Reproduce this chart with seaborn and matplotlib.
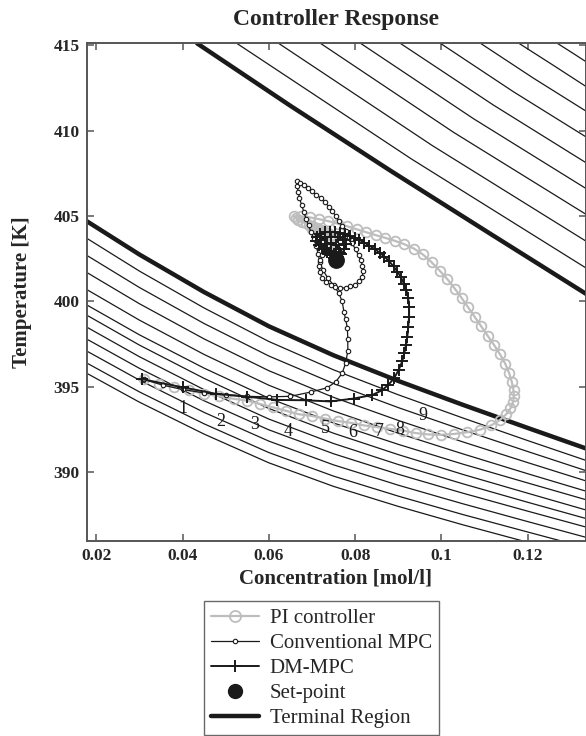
import matplotlib
matplotlib.use("Agg")
import matplotlib.pyplot as plt
from matplotlib.lines import Line2D
import seaborn as sns
import numpy as np

#-------------------
# data (concentration mol/l, temperature K)
#-------------------

# PI controller trajectory
pi_c = [0.0310, 0.0345, 0.0380, 0.0415, 0.0450, 0.0485, 0.0520, 0.0550, 0.0580, 0.0610,
        0.0640, 0.0670, 0.0700, 0.0730, 0.0760, 0.0790, 0.0820, 0.0850, 0.0880, 0.0910,
        0.0940, 0.0970, 0.1000, 0.1030, 0.1060, 0.1090, 0.1115, 0.1135, 0.1150, 0.1160,
        0.1166, 0.1168, 0.1167, 0.1163, 0.1157, 0.1148, 0.1136, 0.1122, 0.1107, 0.1092,
        0.1077, 0.1062, 0.1047, 0.1031, 0.1014, 0.0996, 0.0977, 0.0957, 0.0936, 0.0914,
        0.0892, 0.0870, 0.0848, 0.0826, 0.0804, 0.0782, 0.0760, 0.0738, 0.0716, 0.0695,
        0.0675, 0.0658, 0.0662, 0.0668, 0.0676, 0.0685, 0.0694, 0.0703, 0.0712, 0.0721,
        0.0730, 0.0738, 0.0745, 0.0735, 0.0722, 0.0710, 0.0700, 0.0708, 0.0720, 0.0732,
        0.0743, 0.0750, 0.0754, 0.0755]
pi_t = [395.45, 395.2, 395.0, 394.8, 394.6, 394.45, 394.3, 394.2, 394.0, 393.8,
        393.6, 393.4, 393.3, 393.15, 393.0, 392.9, 392.75, 392.65, 392.55, 392.45,
        392.3, 392.22, 392.2, 392.25, 392.35, 392.5, 392.75, 393.05, 393.4, 393.75,
        394.1, 394.45, 394.8, 395.3, 395.8, 396.35, 396.9, 397.45, 398.0, 398.55,
        399.1, 399.65, 400.2, 400.75, 401.3, 401.8, 402.3, 402.75, 403.1, 403.35,
        403.55, 403.72, 403.88, 404.05, 404.22, 404.4, 404.55, 404.7, 404.82, 404.92,
        404.98, 404.98, 404.88, 404.78, 404.68, 404.58, 404.48, 404.38, 404.28, 404.18,
        404.08, 403.98, 403.88, 403.9, 404.02, 404.14, 404.25, 404.2, 404.05, 403.85,
        403.6, 403.3, 402.95, 402.6]

# conventional MPC trajectory
conv_c = [0.0310, 0.0355, 0.0400, 0.0450, 0.0500, 0.0550, 0.0600, 0.0650, 0.0697, 0.0735,
          0.0755, 0.0770, 0.0778, 0.0783, 0.0783, 0.0782, 0.0778, 0.0774, 0.0770, 0.0762,
          0.0750, 0.0736, 0.0725, 0.0718, 0.0714, 0.0710, 0.0704, 0.0698, 0.0692, 0.0686,
          0.0681, 0.0676, 0.0671, 0.0668, 0.0666, 0.0666, 0.0672, 0.0681, 0.0690, 0.0700,
          0.0710, 0.0720, 0.0730, 0.0739, 0.0747, 0.0755, 0.0763, 0.0770, 0.0778, 0.0785,
          0.0793, 0.0801, 0.0808, 0.0813, 0.0817, 0.0819, 0.0816, 0.0809, 0.0800, 0.0789,
          0.0778, 0.0766, 0.0754, 0.0743, 0.0733, 0.0724, 0.0718, 0.0716, 0.0718, 0.0724,
          0.0733, 0.0744, 0.0752]
conv_t = [395.45, 395.1, 394.85, 394.65, 394.52, 394.45, 394.42, 394.45, 394.7, 394.95,
          395.3, 395.8, 396.4, 397.1, 397.8, 398.45, 398.95, 399.4, 400.0, 400.5,
          400.95, 401.4, 401.85, 402.3, 402.8, 403.25, 403.65, 404.05, 404.45, 404.85,
          405.25, 405.65, 406.05, 406.4, 406.75, 407.03, 406.93, 406.8, 406.62, 406.45,
          406.25, 406.05, 405.8, 405.55, 405.3, 405.0, 404.7, 404.4, 404.1, 403.75,
          403.4, 403.05, 402.7, 402.4, 402.1, 401.76, 401.45, 401.17, 400.98, 400.88,
          400.8, 400.78, 400.82, 400.98, 401.15, 401.37, 401.7, 402.05, 402.4, 402.7,
          402.85, 402.8, 402.6]

# DM-MPC trajectory
dm_c = [0.0307, 0.0400, 0.0477, 0.0550, 0.0620, 0.0685, 0.0743, 0.0797, 0.0840, 0.0862,
        0.0877, 0.0890, 0.0901, 0.0909, 0.0914, 0.0918, 0.0921, 0.0923, 0.0925, 0.0925,
        0.0923, 0.0919, 0.0913, 0.0906, 0.0898, 0.0889, 0.0879, 0.0868, 0.0857, 0.0845,
        0.0833, 0.0821, 0.0810, 0.0799, 0.0788, 0.0777, 0.0766, 0.0754, 0.0742, 0.0730,
        0.0719, 0.0711, 0.0710, 0.0716, 0.0725, 0.0735, 0.0744, 0.0750, 0.0754, 0.0760,
        0.0764, 0.0762, 0.0755, 0.0745, 0.0735, 0.0730, 0.0735, 0.0745, 0.0752, 0.0758,
        0.0768, 0.0775, 0.0778, 0.0772, 0.0760, 0.0745, 0.0730, 0.0720, 0.0722, 0.0732,
        0.0745, 0.0755, 0.0760]
dm_t = [395.45, 394.98, 394.6, 394.43, 394.24, 394.22, 394.15, 394.32, 394.53, 394.8,
        395.12, 395.5, 396.0, 396.49, 396.98, 397.46, 397.95, 398.5, 399.1, 399.7,
        400.2, 400.65, 401.05, 401.42, 401.75, 402.05, 402.35, 402.62, 402.85, 403.07,
        403.27, 403.45, 403.6, 403.73, 403.84, 403.93, 404.0, 404.05, 404.07, 404.05,
        403.97, 403.8, 403.55, 403.3, 403.07, 402.87, 402.7, 402.55, 402.45, 402.6,
        402.85, 403.1, 403.3, 403.4, 403.35, 403.15, 402.95, 402.8, 402.7, 402.5,
        402.75, 403.05, 403.35, 403.6, 403.75, 403.8, 403.75, 403.6, 403.35, 403.1,
        402.9, 402.7, 402.55]

setpoint_c = [0.0755]
setpoint_t = [402.45]

# terminal region boundaries (thick lines)
term_low_c = [0.0178, 0.0300, 0.0450, 0.0600, 0.0750, 0.0900, 0.1050, 0.1200, 0.1335]
term_low_t = [404.7, 402.75, 400.55, 398.55, 396.85, 395.35, 393.95, 392.6, 391.4]
term_up_c = [0.0434, 0.0650, 0.0882, 0.1114, 0.1338]
term_up_t = [415.1, 411.45, 407.65, 403.95, 400.4]

# level lines below the lower boundary, sampled on term_low_c
lower_t = [
    [403.7, 401.78, 399.62, 397.66, 396.0, 394.54, 393.18, 391.86, 390.7],
    [402.7, 400.82, 398.71, 396.81, 395.2, 393.79, 392.48, 391.22, 390.1],
    [401.7, 399.87, 397.81, 395.95, 394.39, 393.04, 391.78, 390.57, 389.5],
    [400.7, 398.91, 396.9, 395.1, 393.59, 392.29, 391.08, 389.92, 388.9],
    [399.8, 398.05, 396.1, 394.34, 392.89, 391.64, 390.48, 389.38, 388.4],
    [399.2, 397.45, 395.5, 393.74, 392.29, 391.04, 389.88, 388.78, 387.8],
    [398.5, 396.77, 394.84, 393.12, 391.69, 390.46, 389.33, 388.25, 387.3],
    [397.8, 396.09, 394.19, 392.49, 391.09, 389.89, 388.78, 387.73, 386.8],
    [397.1, 395.4, 393.51, 391.83, 390.44, 389.25, 388.16, 387.12, 386.2],
    [396.4, 394.71, 392.84, 391.16, 389.78, 388.61, 387.53, 386.51, 385.6],
    [395.8, 394.11, 392.24, 390.56, 389.18, 388.01, 386.93, 385.91, 385.0],
]

# level lines above the upper boundary (top edge, middle, right edge)
upper_c = [
    [0.0526, 0.0931, 0.1335], [0.0623, 0.0979, 0.1335], [0.0720, 0.1028, 0.1335],
    [0.0813, 0.1074, 0.1335], [0.0905, 0.1120, 0.1335], [0.0998, 0.1167, 0.1335],
    [0.1091, 0.1213, 0.1335], [0.1180, 0.1258, 0.1335], [0.1269, 0.1302, 0.1335],
]
upper_t = [
    [415.1, 408.33, 401.96], [415.1, 409.12, 403.53], [415.1, 409.9, 405.10],
    [415.1, 410.7, 406.61], [415.1, 411.5, 408.12], [415.1, 412.27, 409.63],
    [415.1, 413.07, 411.14], [415.1, 413.84, 412.58], [415.1, 414.57, 414.03],
]

# step labels along the lower level lines
step_labels = ["1", "2", "3", "4", "5", "6", "7", "8", "9"]
step_c = [0.0402, 0.0489, 0.0567, 0.0645, 0.0730, 0.0795, 0.0857, 0.0903, 0.0957]
step_t = [393.75, 392.97, 392.8, 392.38, 392.58, 392.33, 392.38, 392.52, 393.3]

x_ticks = [0.02, 0.04, 0.06, 0.08, 0.10, 0.12]
x_tick_labels = ["0.02", "0.04", "0.06", "0.08", "0.1", "0.12"]
y_ticks = [390, 395, 400, 405, 410, 415]

#-------------------
# plot
#-------------------

sns.set_theme(style="ticks")
plt.rcParams['font.family'] = ['Liberation Serif', 'DejaVu Serif']

GREY = '#bdbdbd'
INK = '#1a1a1a'

fig = plt.figure(figsize=(5.86, 7.36), dpi=100)
ax = fig.add_axes([0.148, 0.2653, 0.852, 0.6757])

for line_t in lower_t:
    sns.lineplot(x=term_low_c, y=line_t, ax=ax, color=INK, lw=0.9, sort=False,
                 estimator=None, legend=False, zorder=1)
for line_c, line_t in zip(upper_c, upper_t):
    sns.lineplot(x=line_c, y=line_t, ax=ax, color=INK, lw=0.9, sort=False,
                 estimator=None, legend=False, zorder=1)

sns.lineplot(x=term_low_c, y=term_low_t, ax=ax, color=INK, lw=3.2, sort=False,
             estimator=None, legend=False, zorder=2)
sns.lineplot(x=term_up_c, y=term_up_t, ax=ax, color=INK, lw=3.2, sort=False,
             estimator=None, legend=False, zorder=2)

sns.lineplot(x=pi_c, y=pi_t, ax=ax, color=GREY, lw=1.6, marker='o', ms=7,
             mfc='none', mec=GREY, mew=1.3, sort=False, estimator=None,
             legend=False, zorder=3)
sns.lineplot(x=conv_c, y=conv_t, ax=ax, color=INK, lw=0.9, marker='o', ms=3.2,
             mfc='white', mec=INK, mew=0.8, sort=False, estimator=None,
             legend=False, zorder=4)
sns.lineplot(x=dm_c, y=dm_t, ax=ax, color=INK, lw=1.4, marker='+', ms=8,
             mec=INK, mew=1.4, sort=False, estimator=None, legend=False, zorder=5)
sns.scatterplot(x=setpoint_c, y=setpoint_t, ax=ax, color=INK, s=125,
                edgecolor=INK, legend=False, zorder=6)

for lab, c, t in zip(step_labels, step_c, step_t):
    ax.text(c, t, lab, fontsize=13, color=INK, ha='center', va='center', zorder=7)

ax.set_xlim(0.0178, 0.1335)
ax.set_ylim(386.0, 415.1)
ax.set_xticks(x_ticks)
ax.set_xticklabels(x_tick_labels)
ax.set_yticks(y_ticks)
ax.tick_params(direction='in', length=5, width=1.1, color='#555555',
               top=True, right=True, labelsize=12.5, pad=5)
for lab in ax.get_xticklabels() + ax.get_yticklabels():
    lab.set_fontweight('bold')
for sp in ax.spines.values():
    sp.set_color('#555555')
    sp.set_linewidth(1.4)

fig.text(0.573, 0.974, "Controller Response", fontsize=17, fontweight='bold',
         ha='center', va='center')
fig.text(0.573, 1 - 578 / 736, "Concentration [mol/l]", fontsize=15, fontweight='bold',
         ha='center', va='center')
fig.text(22 / 586, 1 - 292 / 736, "Temperature [K]", fontsize=15, fontweight='bold',
         ha='center', va='center', rotation=90)

handles = [
    Line2D([], [], color=GREY, lw=1.6, marker='o', ms=8, mfc='none', mec=GREY, mew=1.3),
    Line2D([], [], color=INK, lw=0.9, marker='o', ms=3.2, mfc='white', mec=INK, mew=0.8),
    Line2D([], [], color=INK, lw=1.4, marker='+', ms=9, mew=1.4),
    Line2D([], [], color=INK, ls='none', marker='o', ms=10),
    Line2D([], [], color=INK, lw=3.2),
]
labels = ["PI controller", "Conventional MPC", "DM-MPC", "Set-point", "Terminal Region"]
leg = fig.legend(handles, labels, loc='upper left', bbox_to_anchor=(204 / 586, 1 - 601 / 736),
                 frameon=True, fancybox=False, edgecolor='#444444', fontsize=15,
                 handlelength=2.3, labelspacing=0.26, borderpad=0.35, handletextpad=0.5,
                 borderaxespad=0)
leg.get_frame().set_linewidth(1.0)

fig.savefig('out.png', dpi=100)
